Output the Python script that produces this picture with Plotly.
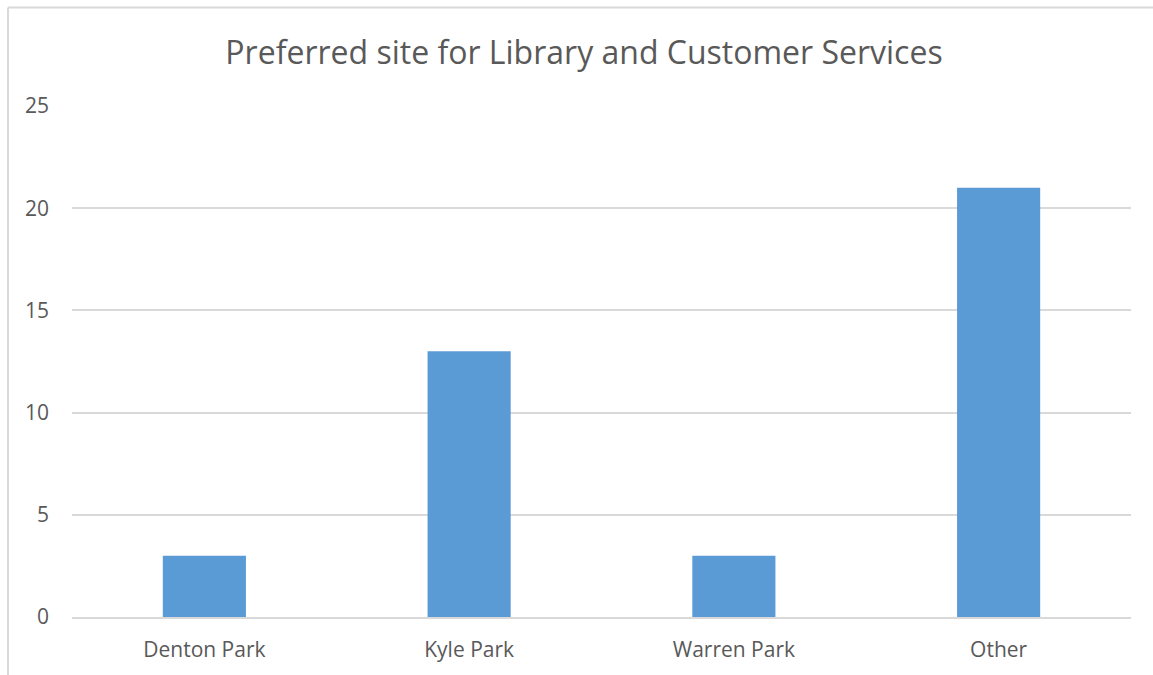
import plotly.graph_objects as go

categories = ["Denton Park", "Kyle Park", "Warren Park", "Other"]
values = [3, 13, 3, 21]
y_ticks = [0, 5, 10, 15, 20, 25]

W, H = 1153, 675
L, R, T, B = 72, 22, 106, 56
pw, ph = W - L - R, H - T - B

def px(x):
    return (x - L) / pw

def py(y):
    return (H - B - y) / ph

fig = go.Figure(go.Bar(x=categories, y=values, marker=dict(color="#5B9BD5", line=dict(width=0)),
                       hoverinfo="x+y"))

grey = "#595959"
fig.update_layout(
    width=W, height=H,
    margin=dict(l=L, r=R, t=T, b=B, pad=0),
    plot_bgcolor="white", paper_bgcolor="white",
    bargap=0.686,
    showlegend=False,
    title=dict(text="Preferred site for Library and Customer Services",
               x=px(584), xref="paper", xanchor="center",
               y=1 - 53 / H, yref="container", yanchor="middle",
               font=dict(family="Open Sans", size=32, color=grey)),
    font=dict(family="Open Sans", color=grey),
    xaxis=dict(showgrid=False, showline=True, linecolor="#d9d9d9", linewidth=1.5,
               ticks="", tickfont=dict(size=21, color=grey), ticklabelstandoff=13),
    yaxis=dict(range=[0, 25], tickvals=y_ticks, showgrid=True, gridcolor="#d9d9d9", gridwidth=1.5,
               zeroline=False, showline=False, ticks="",
               tickfont=dict(size=21, color=grey), ticklabelstandoff=22),
    shapes=[
        dict(type="line", xref="paper", yref="paper", x0=px(8), x1=px(1160), y0=py(7), y1=py(7),
             line=dict(color="#d9d9d9", width=2)),
        dict(type="line", xref="paper", yref="paper", x0=px(8), x1=px(8), y0=py(7), y1=py(680),
             line=dict(color="#d9d9d9", width=2)),
    ],
)

fig.write_html("out.html", config={"displayModeBar": False},
               post_script="document.body.style.margin='0';document.body.style.overflow='hidden';")
